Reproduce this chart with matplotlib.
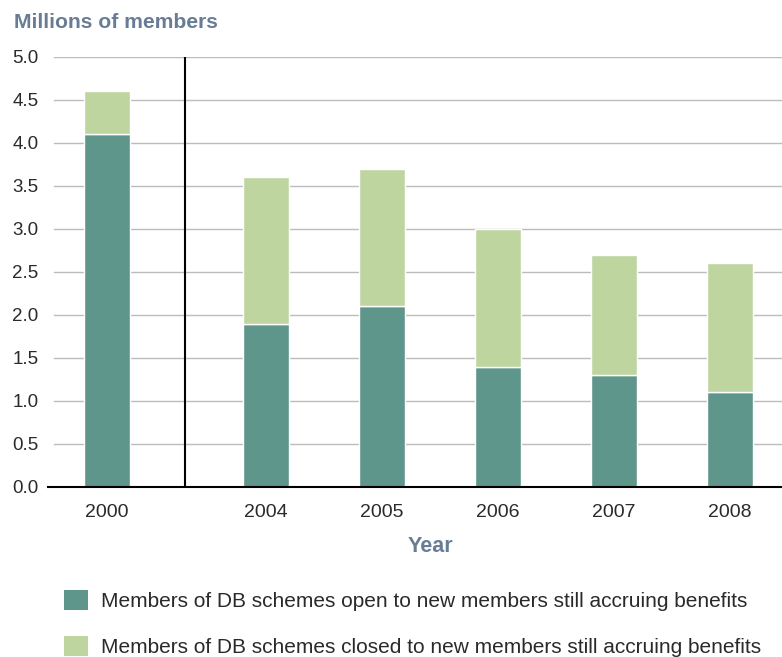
import numpy as np
from matplotlib import pyplot as plt
from matplotlib.patches import Patch

plt.rcParams['font.family'] = ['Liberation Sans', 'DejaVu Sans']

years = ['2000', '2004', '2005', '2006', '2007', '2008']
open_members = [4.1, 1.9, 2.1, 1.4, 1.3, 1.1]
closed_members = [0.5, 1.7, 1.6, 1.6, 1.4, 1.5]

# 2000 sits apart from the rest, behind a divider
x = np.array([0, 1.37, 2.37, 3.37, 4.37, 5.37])
divider = 0.67

dark = '#5f968b'
light = '#bfd5a0'
title_col = '#687d95'
text_col = '#2a2a2a'

fig = plt.figure(figsize=(7.82, 6.57), dpi=100)
ax = fig.add_axes([0.0614, 0.2588, 0.9386, 0.6545])

for v in np.arange(0.5, 5.01, 0.5):
    ax.axhline(v, xmin=0.008, color='#bcbcbc', linewidth=1, zorder=0)

ax.bar(x, open_members, width=0.4, color=dark, edgecolor='white', linewidth=1, zorder=2)
ax.bar(x, closed_members, width=0.4, bottom=open_members, color=light,
       edgecolor='white', linewidth=1, zorder=2)

ax.plot([divider, divider], [0, 5.0], color='black', linewidth=1.5, zorder=3)

ax.set_xlim(-0.51, 5.82)
ax.set_ylim(0, 5.0)
ax.set_yticks(np.arange(0, 5.01, 0.5))
ax.set_yticklabels(['%.1f' % v for v in np.arange(0, 5.01, 0.5)])
ax.set_xticks(x)
ax.set_xticklabels(years)
ax.tick_params(axis='both', length=0, labelcolor=text_col)
ax.tick_params(axis='y', pad=7, labelsize=13.5)
ax.tick_params(axis='x', pad=12, labelsize=14)

for s in ['top', 'right', 'left']:
    ax.spines[s].set_visible(False)
ax.spines['bottom'].set_color('black')
ax.spines['bottom'].set_linewidth(1.5)

fig.text(0.018, 0.9665, 'Millions of members', fontsize=15.2, fontweight='bold',
         color=title_col, va='center', ha='left')
fig.text(0.551, 0.168, 'Year', fontsize=15.5, fontweight='bold',
         color=title_col, va='center', ha='center')

handles = [Patch(facecolor=dark), Patch(facecolor=light)]
labels = ['Members of DB schemes open to new members still accruing benefits',
          'Members of DB schemes closed to new members still accruing benefits']
fig.legend(handles, labels, loc='upper left', bbox_to_anchor=(0.0818, 0.102),
           frameon=False, fontsize=15, labelcolor=text_col,
           handlelength=1.15, handleheight=1.1, handletextpad=0.62,
           labelspacing=1.2, borderaxespad=0, borderpad=0)

plt.savefig('out.png', dpi=100)
